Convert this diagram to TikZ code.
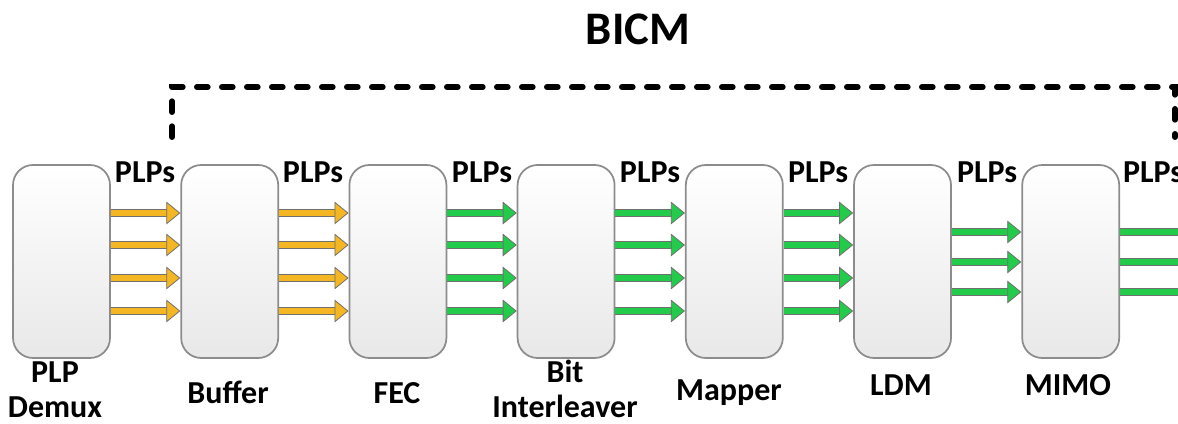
\documentclass[tikz,border=0pt]{standalone}
\usepackage{fontspec}
\setmainfont{Carlito}
\usetikzlibrary{arrows.meta}
\definecolor{yel}{HTML}{F4B622}
\definecolor{grn}{HTML}{22CC4A}
\definecolor{arredge}{HTML}{707070}
\definecolor{boxedge}{HTML}{8C8C8C}
\begin{document}
\begin{tikzpicture}[x=0.75pt,y=-0.75pt,
  blk/.style={draw=boxedge, line width=1.3pt, rounded corners=15pt,
    top color=white, bottom color=black!9, minimum width=72.75pt,
    minimum height=144.75pt, inner sep=0pt},
  parr/.style={line width=4.5pt, draw=#1,
    -{Triangle[length=10.5pt, width=17pt, fill=#1, color=arredge, line width=0.6pt]},
    preaction={-, draw=arredge, line width=5.7pt, shorten >=5pt}},
  lbl/.style={font=\fontsize{24}{26}\selectfont\bfseries, align=center, inner sep=0pt},
  bicm/.style={line width=4.5pt, line cap=round, dash pattern=on 8pt off 10.75pt}
]
\useasboundingbox (0,0) rectangle (1178,424);
\clip (0,0) rectangle (1178,424);

% title
\node[font=\fontsize{35}{40}\selectfont\bfseries, anchor=base, inner sep=0pt] (title) at (638,45) {BICM};

% dashed BICM frame
\coordinate (d1) at (172,137);
\coordinate (d2) at (172,87);
\coordinate (d3) at (1175,87);
\coordinate (d4) at (1175,137);
\draw[bicm] (d1) -- (d2) -- (d3) -- (d4);

% blocks
\foreach \i/\x in {1/61.5,2/229.7,3/397.9,4/566.1,5/734.3,6/902.5,7/1070.7}{
  \node[blk] (b\i) at (\x,261.5) {};
}

% PLPs labels
\foreach \x [count=\k] in {145,313,482,650,818,987,1153}{
  \node[lbl, anchor=base] (p\k) at (\x,183) {PLPs};
}

% arrows: 4 per gap
\foreach \a/\b/\c in {1/2/yel,2/3/yel,3/4/grn,4/5/grn,5/6/grn}{
  \foreach \y in {213,245,278,311}{
    \draw[parr=\c] (b\a.east |- 0,\y) -- (b\b.west |- 0,\y);
  }
}
% LDM -> MIMO: 3 arrows
\foreach \y in {232,262,292}{
  \draw[parr=grn] (b6.east |- 0,\y) -- (b7.west |- 0,\y);
}
% MIMO -> out
\foreach \y [count=\k] in {232,262,292}{
  \coordinate (o\k) at (1200,\y);
  \draw[parr=grn] (b7.east |- 0,\y) -- (o\k);
}

% labels under blocks
\node[lbl, anchor=base] (l1) at (55,417) {PLP\\Demux};
\node[lbl, anchor=base] (l2) at (228,403) {Buffer};
\node[lbl, anchor=base] (l3) at (397,403) {FEC};
\node[lbl, anchor=base] (l4) at (565,417) {Bit\\Interleaver};
\node[lbl, anchor=base] (l5) at (729,400) {Mapper};
\node[lbl, anchor=base] (l6) at (901,395) {LDM};
\node[lbl, anchor=base] (l7) at (1068,395) {MIMO};
\end{tikzpicture}
\end{document}
